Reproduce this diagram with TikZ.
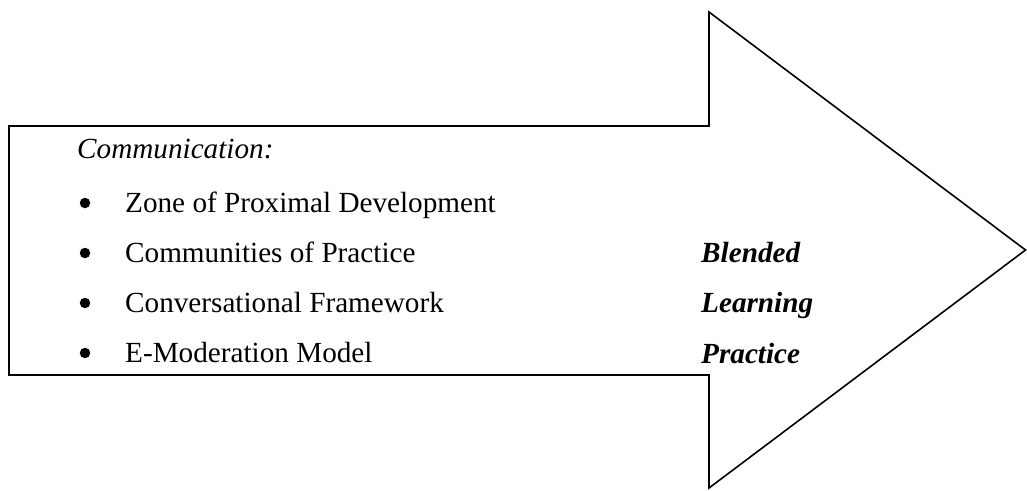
\documentclass[tikz,border=0pt]{standalone}
\usepackage{fontspec}
\setmainfont{Liberation Serif}
\begin{document}
\begin{tikzpicture}[x=1pt,y=-1pt,
  itemtext/.style={anchor=base west,inner sep=0pt,font=\fontsize{29.2}{31}\selectfont},
  headtext/.style={anchor=base west,inner sep=0pt,font=\fontsize{29.2}{31}\selectfont\itshape},
  sidetext/.style={anchor=base west,inner sep=0pt,font=\fontsize{29.2}{31}\selectfont\bfseries\itshape},
  bulletdot/.style={circle,fill=black,inner sep=0pt,minimum size=10.5pt}]
\useasboundingbox (0,0) rectangle (1027,490);
\draw[line width=1.6pt,line join=miter]
  (9,126) -- (709,126) -- (709,12) -- (1025.5,250) -- (709,488) -- (709,375) -- (9,375) -- cycle;
\node[headtext] (head) at (77,158) {Communication:};
\node[bulletdot] (b1) at (85,203) {};
\node[itemtext] (t1) at (125,212) {Zone of Proximal Development};
\node[bulletdot] (b2) at (85,253) {};
\node[itemtext] (t2) at (125,262) {Communities of Practice};
\node[bulletdot] (b3) at (85,303) {};
\node[itemtext] (t3) at (125,312) {Conversational Framework};
\node[bulletdot] (b4) at (85,353) {};
\node[itemtext] (t4) at (125,362) {E-Moderation Model};
\node[sidetext] (s1) at (701,262) {Blended};
\node[sidetext] (s2) at (701,312) {Learning};
\node[sidetext] (s3) at (701,363) {Practice};
\end{tikzpicture}
\end{document}
